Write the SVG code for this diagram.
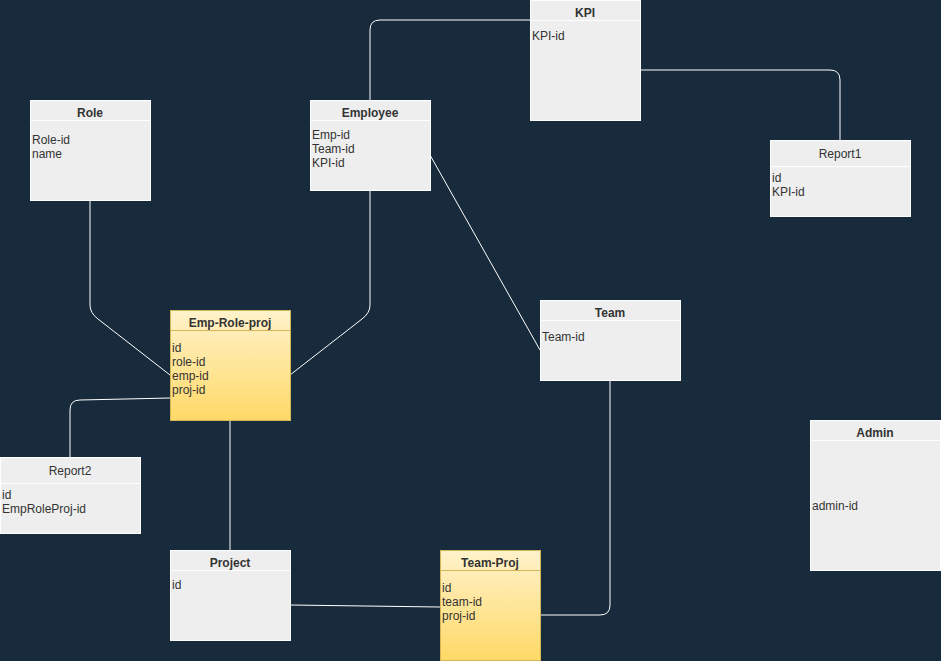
<svg xmlns="http://www.w3.org/2000/svg" width="941" height="661" viewBox="0 0 941 661">
  <defs>
    <linearGradient id="gold" x1="0" y1="0" x2="0" y2="1">
      <stop offset="0" stop-color="#FFF2CC"/>
      <stop offset="1" stop-color="#FFD966"/>
    </linearGradient>
    <style>
      .box { fill: #EEEEEE; stroke: #FFFFFF; stroke-width: 1; }
      .ybox { fill: url(#gold); stroke: #D6B656; stroke-width: 1; }
      .sep { stroke: #FFFFFF; stroke-width: 1; }
      .ysep { stroke: #D6B656; stroke-width: 1; }
      text { font-family: "Liberation Sans", Arial, sans-serif; font-size: 12px; fill: #333333; }
      .title { font-weight: bold; text-anchor: middle; }
      .plain { text-anchor: middle; }
      .edge { fill: none; stroke: #FFFFFF; stroke-width: 1; }
    </style>
  </defs>
  <rect width="941" height="661" fill="#182B3C"/>

  <g id="connectors">
    <path class="edge" d="M370,100 L370,30 Q370,20 380,20 L530,20"/>
    <path class="edge" d="M640,70 L830,70 Q840,70 840,80 L840,140"/>
    <path class="edge" d="M90,200 L90,305 Q90,313 98,319 L170,375"/>
    <path class="edge" d="M370,190 L370,305 Q370,313 362,319 L290,375"/>
    <path class="edge" d="M430,155 L540,350"/>
    <path class="edge" d="M170,398 L80,400 Q70,400 70,410 L70,457"/>
    <path class="edge" d="M230,420 L230,550"/>
    <path class="edge" d="M290,605 L440,607"/>
    <path class="edge" d="M610,380 L610,605 Q610,615 600,615 L540,615"/>
  </g>

  <g id="kpi">
    <rect class="box" x="530.5" y="0.5" width="110" height="120"/>
    <line class="sep" x1="530.5" y1="20.5" x2="640.5" y2="20.5"/>
    <text class="title" x="585" y="17">KPI</text>
    <text x="532" y="40">KPI-id</text>
  </g>

  <g id="role">
    <rect class="box" x="30.5" y="100.5" width="120" height="100"/>
    <line class="sep" x1="30.5" y1="120.5" x2="150.5" y2="120.5"/>
    <text class="title" x="90" y="117">Role</text>
    <text x="32" y="144">Role-id</text>
    <text x="32" y="158">name</text>
  </g>

  <g id="employee">
    <rect class="box" x="310.5" y="100.5" width="120" height="90"/>
    <line class="sep" x1="310.5" y1="120.5" x2="430.5" y2="120.5"/>
    <text class="title" x="370" y="117">Employee</text>
    <text x="312" y="139">Emp-id</text>
    <text x="312" y="153">Team-id</text>
    <text x="312" y="167">KPI-id</text>
  </g>

  <g id="report1">
    <rect class="box" x="770.5" y="140.5" width="140" height="76"/>
    <line class="sep" x1="770.5" y1="166.5" x2="910.5" y2="166.5"/>
    <text class="plain" x="840" y="158">Report1</text>
    <text x="772" y="182">id</text>
    <text x="772" y="196">KPI-id</text>
  </g>

  <g id="emp-role-proj">
    <rect class="ybox" x="170.5" y="310.5" width="120" height="110"/>
    <line class="ysep" x1="170.5" y1="330.5" x2="290.5" y2="330.5"/>
    <text class="title" x="230" y="327">Emp-Role-proj</text>
    <text x="172" y="352">id</text>
    <text x="172" y="366">role-id</text>
    <text x="172" y="380">emp-id</text>
    <text x="172" y="394">proj-id</text>
  </g>

  <g id="team">
    <rect class="box" x="540.5" y="300.5" width="140" height="80"/>
    <line class="sep" x1="540.5" y1="320.5" x2="680.5" y2="320.5"/>
    <text class="title" x="610" y="317">Team</text>
    <text x="542" y="341">Team-id</text>
  </g>

  <g id="admin">
    <rect class="box" x="810.5" y="420.5" width="130" height="150"/>
    <line class="sep" x1="810.5" y1="440.5" x2="940.5" y2="440.5"/>
    <text class="title" x="875" y="437">Admin</text>
    <text x="812" y="510">admin-id</text>
  </g>

  <g id="report2">
    <rect class="box" x="0.5" y="457.5" width="140" height="76"/>
    <line class="sep" x1="0.5" y1="483.5" x2="140.5" y2="483.5"/>
    <text class="plain" x="70" y="475">Report2</text>
    <text x="2" y="499">id</text>
    <text x="2" y="513">EmpRoleProj-id</text>
  </g>

  <g id="project">
    <rect class="box" x="170.5" y="550.5" width="120" height="90"/>
    <line class="sep" x1="170.5" y1="570.5" x2="290.5" y2="570.5"/>
    <text class="title" x="230" y="567">Project</text>
    <text x="172" y="589">id</text>
  </g>

  <g id="team-proj">
    <rect class="ybox" x="440.5" y="550.5" width="100" height="110"/>
    <line class="ysep" x1="440.5" y1="570.5" x2="540.5" y2="570.5"/>
    <text class="title" x="490" y="567">Team-Proj</text>
    <text x="442" y="592">id</text>
    <text x="442" y="606">team-id</text>
    <text x="442" y="620">proj-id</text>
  </g>
</svg>
